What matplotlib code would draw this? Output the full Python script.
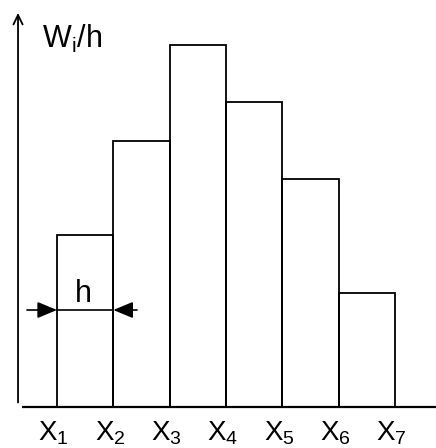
import matplotlib
matplotlib.use("Agg")
import matplotlib.pyplot as plt

plt.rcParams['font.family'] = ['Liberation Sans', 'DejaVu Sans']
plt.rcParams['mathtext.fontset'] = 'custom'
plt.rcParams['mathtext.rm'] = 'Liberation Sans'

# data
bin_edges = [0, 1, 2, 3, 4, 5, 6]
heights = [1.72, 2.66, 3.62, 3.05, 2.28, 1.14]
x_labels = [r'$\mathregular{X_1}$', r'$\mathregular{X_2}$', r'$\mathregular{X_3}$',
            r'$\mathregular{X_4}$', r'$\mathregular{X_5}$', r'$\mathregular{X_6}$',
            r'$\mathregular{X_7}$']
y_label = r'$\mathregular{W_i/h}$'
width_label = 'h'

fig = plt.figure(figsize=(4.36, 4.48), dpi=100)
ax = fig.add_axes([0, 0, 1, 1])
ax.set_xlim(-1.012, 6.728)
ax.set_ylim(-0.415, 4.065)
ax.axis('off')

# bars
ax.bar(bin_edges[:-1], heights, width=1, align='edge', fill=False,
       edgecolor='black', linewidth=1.3)

# baseline (x axis)
ax.plot([-0.62, 6.73], [0, 0], color='black', linewidth=1.6, solid_capstyle='butt')

# y axis with arrow
ax.annotate('', xy=(-0.692, 3.935), xytext=(-0.692, 0.04),
            arrowprops=dict(arrowstyle='->,head_length=0.45,head_width=0.22',
                            mutation_scale=15, color='black', lw=1.3,
                            shrinkA=0, shrinkB=0))

# x labels at bin edges
for xe, lab in zip(bin_edges, x_labels):
    ax.text(xe - 0.06, -0.335, lab, ha='center', va='baseline', fontsize=20,
            color='black')

# y label
ax.text(-0.266, 3.585, y_label, ha='left', va='baseline', fontsize=22, color='black')

# width dimension
y_dim = 0.965
x0, x1 = bin_edges[0], bin_edges[1]
ax.plot([x0, x1], [y_dim, y_dim], color='black', linewidth=1.2)
ax.annotate('', xy=(x0, y_dim), xytext=(x0 - 0.533, y_dim),
            arrowprops=dict(arrowstyle='-|>,head_length=0.6,head_width=0.25',
                            mutation_scale=20, color='black', lw=1.2,
                            shrinkA=0, shrinkB=0))
ax.annotate('', xy=(x1, y_dim), xytext=(x1 + 0.42, y_dim),
            arrowprops=dict(arrowstyle='-|>,head_length=0.6,head_width=0.25',
                            mutation_scale=20, color='black', lw=1.2,
                            shrinkA=0, shrinkB=0))
ax.text((x0 + x1) / 2 - 0.03, 1.045, width_label, ha='center', va='baseline',
        fontsize=22, color='black')

fig.savefig('out.png', dpi=100)
